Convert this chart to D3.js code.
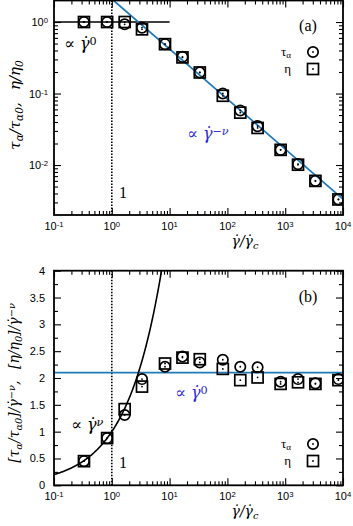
<!DOCTYPE html>
<html><head><meta charset="utf-8">
<script src="https://cdn.jsdelivr.net/npm/d3@7"></script>
<style>body{margin:0;background:#fff} svg{display:block}</style>
</head><body>
<script>
// ---------- data ----------
const shearRate = [0.33, 0.83, 1.67, 3.33, 8.33, 16.7, 33.3, 83.3, 167, 333, 833, 1667, 3333, 8333];
const tauNorm   = [1.0, 1.0, 0.93, 0.835, 0.49, 0.325, 0.197, 0.100, 0.058, 0.035, 0.0163, 0.0103, 0.0060, 0.0033];
const etaNorm   = [1.0, 1.0, 1.0, 0.79, 0.49, 0.32, 0.197, 0.093, 0.054, 0.033, 0.0163, 0.0101, 0.0060, 0.0033];
const tauScaled = [0.45, 0.88, 1.31, 1.98, 2.21, 2.40, 2.29, 2.34, 2.21, 2.20, 1.93, 1.98, 1.90, 1.98];
const etaScaled = [0.45, 0.88, 1.42, 1.84, 2.27, 2.38, 2.35, 2.17, 1.96, 2.01, 1.89, 1.92, 1.89, 1.96];
const nu = 0.7;
const plateau = 2.1;
const xTickVals = [0.1, 1, 10, 100, 1000, 10000];
const xTickExps = ["-1", "0", "1", "2", "3", "4"];
const yTickValsA = [0.01, 0.1, 1];
const yTickExpsA = ["-2", "-1", "0"];
const yTickValsB = [0, 0.5, 1, 1.5, 2, 2.5, 3, 3.5, 4];
const yTickLabsB = ["0", "0.5", "1", "1.5", "2", "2.5", "3", "3.5", "4"];

// ---------- setup ----------
const W = 353, H = 526;
const L = 54, R = 343;
const svg = d3.select("body").append("svg").attr("width", W).attr("height", H);
const BLUE = "#1f7ab8", TXTBLUE = "#2b2bdc";
const MATH = "'DejaVu Serif', serif";
const SERIF = "'Liberation Serif', 'DejaVu Serif', serif";
const SANS = "'Liberation Sans', Arial, sans-serif";
const GDOT = "\u03B3\u0307";

const x = d3.scaleLog().domain([0.1, 10000]).range([L, R]);

function rich(sel, parts) {
  parts.forEach(p => {
    const t = sel.append("tspan").text(p[0]);
    if (p[1] === "sub") t.attr("baseline-shift", "-25%").attr("font-size", "70%");
    if (p[1] === "sup") t.attr("baseline-shift", "40%").attr("font-size", "70%");
    if (p[2]) t.attr("font-style", p[2]);
  });
  return sel;
}

function minorLog(lo, hi) {
  const out = [];
  for (let e = Math.floor(Math.log10(lo)); e <= Math.ceil(Math.log10(hi)); e++) {
    for (let m = 2; m <= 9; m++) { const v = m * Math.pow(10, e); if (v > lo && v < hi) out.push(v); }
  }
  return out;
}

function frame(g, y, top, bot, yMajor, yMinor) {
  const h = bot - top;
  g.append("g").attr("transform", `translate(0,${bot})`)
    .call(d3.axisBottom(x).tickValues(xTickVals).tickSizeInner(-7).tickSizeOuter(0).tickFormat(""));
  g.append("g").attr("transform", `translate(0,${bot})`)
    .call(d3.axisBottom(x).tickValues(minorLog(0.1, 10000)).tickSizeInner(-4).tickSizeOuter(0).tickFormat(""));
  g.append("g").attr("transform", `translate(0,${top})`)
    .call(d3.axisTop(x).tickValues(xTickVals).tickSizeInner(-7).tickSizeOuter(0).tickFormat(""));
  g.append("g").attr("transform", `translate(0,${top})`)
    .call(d3.axisTop(x).tickValues(minorLog(0.1, 10000)).tickSizeInner(-4).tickSizeOuter(0).tickFormat(""));
  g.append("g").attr("transform", `translate(${L},0)`)
    .call(d3.axisLeft(y).tickValues(yMajor).tickSizeInner(-7).tickSizeOuter(0).tickFormat(""));
  g.append("g").attr("transform", `translate(${L},0)`)
    .call(d3.axisLeft(y).tickValues(yMinor).tickSizeInner(-4).tickSizeOuter(0).tickFormat(""));
  g.append("g").attr("transform", `translate(${R},0)`)
    .call(d3.axisRight(y).tickValues(yMajor).tickSizeInner(-7).tickSizeOuter(0).tickFormat(""));
  g.append("g").attr("transform", `translate(${R},0)`)
    .call(d3.axisRight(y).tickValues(yMinor).tickSizeInner(-4).tickSizeOuter(0).tickFormat(""));
  g.selectAll(".domain").remove();
  g.selectAll(".tick line").attr("stroke", "#000").attr("stroke-width", 1.1);
  g.append("rect").attr("x", L).attr("y", top).attr("width", R - L).attr("height", h)
    .attr("fill", "none").attr("stroke", "#000").attr("stroke-width", 1.8);
  xTickVals.forEach((v, i) => {
    rich(g.append("text").attr("x", x(v)).attr("y", bot + 15).attr("text-anchor", "middle")
      .attr("font-family", SANS).attr("font-size", 11), [["10"], [xTickExps[i], "sup"]]);
  });
  rich(g.append("text").attr("x", 245).attr("y", bot + 31).attr("text-anchor", "middle")
    .attr("font-family", MATH).attr("font-style", "italic").attr("font-size", 14),
    [[GDOT + "/" + GDOT], ["c", "sub"]]);
}

function markers(g, y, xs, ys, kind) {
  const sel = g.append("g").selectAll("g").data(xs.map((d, i) => [d, ys[i]])).join("g")
    .attr("transform", d => `translate(${x(d[0])},${y(d[1])})`);
  if (kind === "circle") sel.append("circle").attr("r", 5.2);
  else sel.append("rect").attr("x", -5.5).attr("y", -5.5).attr("width", 11).attr("height", 11);
  sel.selectAll("circle,rect").attr("fill", "none").attr("stroke", "#000").attr("stroke-width", 1.7);
  sel.append("circle").attr("r", 0.9).attr("fill", "#000");
}

function legendItem(g, ty, label, kind) {
  const t = g.append("text").attr("x", 291).attr("y", ty + 4).attr("text-anchor", "end")
    .attr("font-family", SERIF).attr("font-size", 13);
  rich(t, label);
  const m = g.append("g").attr("transform", `translate(313,${ty})`);
  if (kind === "circle") m.append("circle").attr("r", 5.2);
  else m.append("rect").attr("x", -5.5).attr("y", -5.5).attr("width", 11).attr("height", 11);
  m.selectAll("circle,rect").attr("fill", "none").attr("stroke", "#000").attr("stroke-width", 1.7);
  m.append("circle").attr("r", 0.9).attr("fill", "#000");
}

// ---------- panel (a) ----------
const topA = 0.5, botA = 215;
const yA = d3.scaleLog().domain([0.002, 2]).range([botA, topA]);
const gA = svg.append("g");
svg.append("clipPath").attr("id", "clipA").append("rect")
  .attr("x", L).attr("y", topA).attr("width", R - L).attr("height", botA - topA);
const pA = gA.append("g").attr("clip-path", "url(#clipA)");
pA.append("line").attr("x1", x(1)).attr("x2", x(1)).attr("y1", topA).attr("y2", botA)
  .attr("stroke", "#000").attr("stroke-width", 1.6).attr("stroke-dasharray", "1.5,1.5");
pA.append("path").datum([0.1, 10]).attr("d", d3.line().x(d => x(d)).y(() => yA(1)))
  .attr("stroke", "#000").attr("stroke-width", 1.6).attr("fill", "none");
pA.append("path").datum([0.02, 10000]).attr("d", d3.line().x(d => x(d)).y(d => yA(plateau * Math.pow(d, -nu))))
  .attr("stroke", BLUE).attr("stroke-width", 1.8).attr("fill", "none");
markers(pA, yA, shearRate, tauNorm, "circle");
markers(pA, yA, shearRate, etaNorm, "square");
frame(gA, yA, topA, botA, yTickValsA, minorLog(0.002, 2));
yTickValsA.forEach((v, i) => {
  rich(gA.append("text").attr("x", 48).attr("y", yA(v) + 4).attr("text-anchor", "end")
    .attr("font-family", SANS).attr("font-size", 11), [["10"], [yTickExpsA[i], "sup"]]);
});
rich(gA.append("text").attr("x", 64).attr("y", 49).attr("font-family", MATH).attr("font-size", 16),
  [["\u221D "], [GDOT, null, "italic"], ["0", "sup"]]);
gA.append("text").attr("x", 119).attr("y", 198).attr("font-family", SERIF).attr("font-size", 16).text("1");
gA.append("text").attr("x", 308).attr("y", 31).attr("text-anchor", "middle").attr("font-family", SERIF).attr("font-size", 16).text("(a)");
rich(gA.append("text").attr("x", 187).attr("y", 139).attr("font-family", MATH).attr("font-size", 16).attr("fill", TXTBLUE),
  [["\u221D "], [GDOT, null, "italic"], ["\u2212\u03BD", "sup", "italic"]]);
legendItem(gA, 52, [["\u03C4"], ["\u03B1", "sub"]], "circle");
legendItem(gA, 69, [["\u03B7"]], "square");
rich(gA.append("text").attr("transform", "translate(20,105) rotate(-90)").attr("text-anchor", "middle")
  .attr("font-family", MATH).attr("font-style", "italic").attr("font-size", 15),
  [["\u03C4"], ["\u03B1", "sub"], ["/\u03C4"], ["\u03B10", "sub"], [",\u2002 \u03B7/\u03B7"], ["0", "sub"]]);

// ---------- panel (b) ----------
const topB = 270.7, botB = 485.3;
const yB = d3.scaleLinear().domain([0, 4]).range([botB, topB]);
const gB = svg.append("g");
svg.append("clipPath").attr("id", "clipB").append("rect")
  .attr("x", L).attr("y", topB).attr("width", R - L).attr("height", botB - topB);
const pB = gB.append("g").attr("clip-path", "url(#clipB)");
pB.append("line").attr("x1", x(1)).attr("x2", x(1)).attr("y1", topB).attr("y2", botB)
  .attr("stroke", "#000").attr("stroke-width", 1.6).attr("stroke-dasharray", "1.5,1.5");
pB.append("path").datum([0.1, 10000]).attr("d", d3.line().x(d => x(d)).y(() => yB(plateau)))
  .attr("stroke", BLUE).attr("stroke-width", 1.8).attr("fill", "none");
const curveX = d3.range(0, 201).map(i => Math.pow(10, -1 + i * 0.01));
pB.append("path").datum(curveX).attr("d", d3.line().x(d => x(d)).y(d => yB(Math.pow(d, nu))))
  .attr("stroke", "#000").attr("stroke-width", 1.6).attr("fill", "none");
markers(pB, yB, shearRate, tauScaled, "circle");
markers(pB, yB, shearRate, etaScaled, "square");
frame(gB, yB, topB, botB, yTickValsB, d3.range(0.25, 4, 0.5));
yTickValsB.forEach((v, i) => {
  gB.append("text").attr("x", 45).attr("y", yB(v) + 4).attr("text-anchor", "end")
    .attr("font-family", SANS).attr("font-size", 11).text(yTickLabsB[i]);
});
rich(gB.append("text").attr("x", 175).attr("y", 398).attr("font-family", MATH).attr("font-size", 16).attr("fill", TXTBLUE),
  [["\u221D "], [GDOT, null, "italic"], ["0", "sup"]]);
rich(gB.append("text").attr("x", 71).attr("y", 430).attr("font-family", MATH).attr("font-size", 16),
  [["\u221D "], [GDOT, null, "italic"], ["\u03BD", "sup", "italic"]]);
gB.append("text").attr("x", 119).attr("y", 468).attr("font-family", SERIF).attr("font-size", 16).text("1");
gB.append("text").attr("x", 308).attr("y", 302).attr("text-anchor", "middle").attr("font-family", SERIF).attr("font-size", 16).text("(b)");
legendItem(gB, 444, [["\u03C4"], ["\u03B1", "sub"]], "circle");
legendItem(gB, 461, [["\u03B7"]], "square");
rich(gB.append("text").attr("transform", "translate(19,383) rotate(-90)").attr("text-anchor", "middle")
  .attr("font-family", MATH).attr("font-style", "italic").attr("font-size", 14),
  [["[\u03C4"], ["\u03B1", "sub"], ["/\u03C4"], ["\u03B10", "sub"], ["]/" + GDOT], ["\u2212\u03BD", "sup"],
   [",\u2002 [\u03B7/\u03B7"], ["0", "sub"], ["]/" + GDOT], ["\u2212\u03BD", "sup"]]);
</script>
</body></html>
